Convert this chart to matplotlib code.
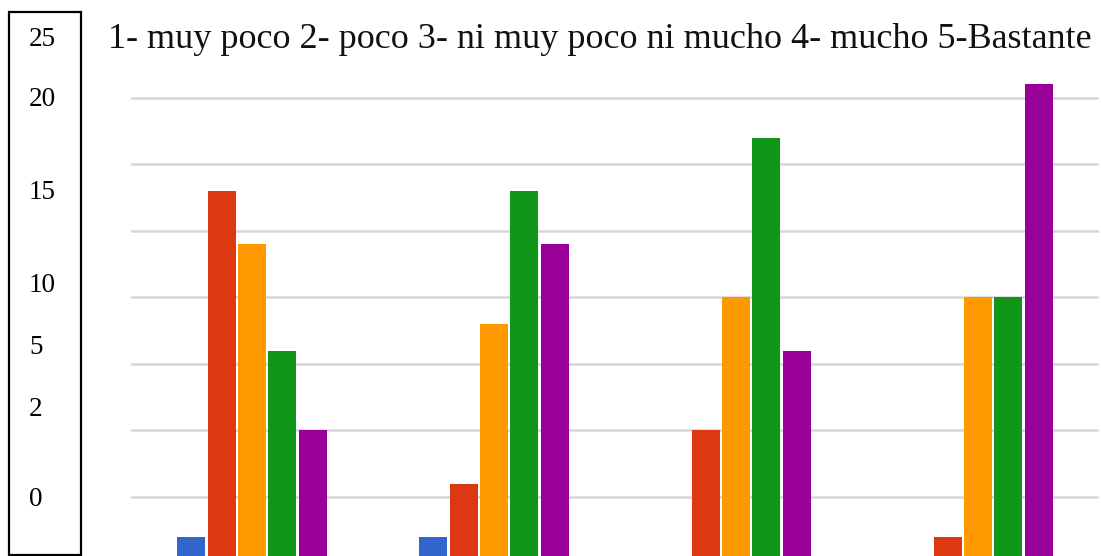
import matplotlib
matplotlib.use("Agg")
import matplotlib.pyplot as plt
from matplotlib.patches import Rectangle
import numpy as np

# ---- data ----
groups = ["G1", "G2", "G3", "G4"]
series_names = ["1", "2", "3", "4", "5"]
series_colors = ["#3366cc", "#dc3912", "#ff9900", "#109618", "#990099"]
values = {
    "1": [1, 1, 0, 0],
    "2": [14, 3, 5, 1],
    "3": [12, 9, 10, 10],
    "4": [8, 14, 16, 10],
    "5": [5, 12, 8, 18],
}
grid_values = [2.5, 5, 7.5, 10, 12.5, 15, 17.5]
box_labels = ["25", "20", "15", "10", "5", "2", "0"]
box_label_y_px = [39, 100, 192, 285, 348, 410, 500]
title = "1- muy poco 2- poco 3- ni muy poco ni mucho 4- mucho 5-Bastante"

W, H = 1101, 556
fig = plt.figure(figsize=(W / 100, H / 100), dpi=100)
fig.patch.set_facecolor("white")

# axes: value 0 at pixel y=563.5, value 20 at y=31 ; x from 131 to 1099
y0_px, y20_px = 563.5, 31
ax = fig.add_axes([131 / W, (H - y0_px) / H, (1099 - 131) / W, (y0_px - y20_px) / H])
ax.set_xlim(-0.5, 3.5)
ax.set_ylim(0, 20)
for s in ax.spines.values():
    s.set_visible(False)
ax.set_xticks([])
ax.set_yticks(grid_values)
ax.tick_params(axis="y", length=0, labelleft=False)
ax.grid(axis="y", color="#d6d6d6", linewidth=1.8)
ax.set_axisbelow(True)

x = np.arange(len(groups))
pitch = 30.4 / 242
width = 28 / 242
for k, name in enumerate(series_names):
    ax.bar(x + (k - 2) * pitch, values[name], width=width,
           color=series_colors[k], edgecolor="none", zorder=3)

# left box with labels
box = Rectangle((9 / W, (H - 555) / H), (81 - 9) / W, (555 - 12) / H,
                transform=fig.transFigure, fill=False, edgecolor="black",
                linewidth=1.6)
fig.add_artist(box)
for lab, ypx in zip(box_labels, box_label_y_px):
    fig.text(29 / W, 1 - ypx / H, lab, ha="left", va="center",
             fontsize=19.5, family="Liberation Serif", color="black")

# title, fitted to width
t = fig.text(600 / W, 1 - 40 / H, title, ha="center", va="center",
             fontsize=24, family="Liberation Serif", color="#111111")
fig.canvas.draw()
bb = t.get_window_extent()
t.set_fontsize(24 * 985 / bb.width)

fig.savefig("out.png", dpi=100, facecolor="white")
